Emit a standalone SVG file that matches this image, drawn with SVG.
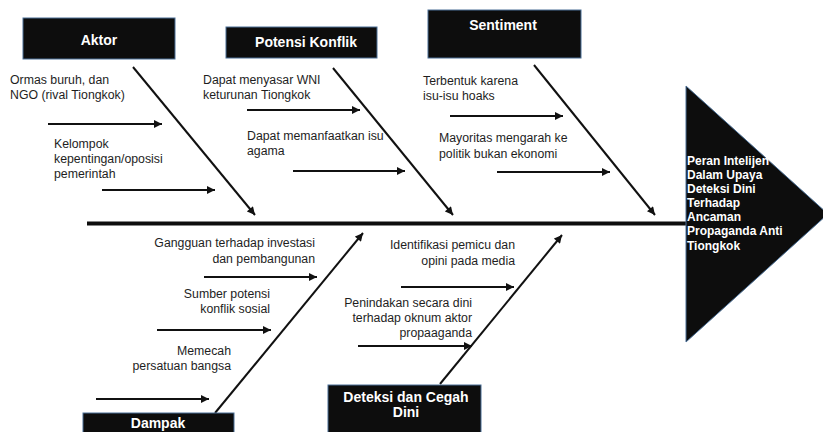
<svg xmlns="http://www.w3.org/2000/svg" width="823" height="432" viewBox="0 0 823 432">
  <style>
    .box { fill: #0d0d0d; stroke: #4a6f96; stroke-width: 1; }
    .title { font-family: "Liberation Sans", Arial, sans-serif; font-size: 14px; font-weight: bold; fill: #ffffff; text-anchor: middle; }
    .head { font-family: "Liberation Sans", Arial, sans-serif; font-size: 12px; font-weight: bold; fill: #ffffff; }
    .lbl { font-family: "Liberation Sans", Arial, sans-serif; font-size: 12.3px; fill: #1e1e1e; }
    .end { text-anchor: end; }
    .arr { stroke: #111111; stroke-width: 2; fill: none; marker-end: url(#ah); }
    .spine { stroke: #0d0d0d; stroke-width: 4; }
  </style>
  <defs>
    <marker id="ah" viewBox="0 0 10 10" refX="10" refY="5" markerWidth="9" markerHeight="8" markerUnits="userSpaceOnUse" orient="auto">
      <path d="M0,0 L10,5 L0,10 z" fill="#111111"/>
    </marker>
  </defs>
  <rect width="823" height="432" fill="#ffffff"/>

  <g id="connectors">
    <line class="spine" x1="87" y1="223.5" x2="687" y2="223.5"/>
    <line class="arr" x1="133" y1="67" x2="255" y2="215"/>
    <line class="arr" x1="333" y1="68" x2="453" y2="215"/>
    <line class="arr" x1="534" y1="65" x2="655" y2="215"/>
    <line class="arr" x1="215" y1="413" x2="363" y2="233"/>
    <line class="arr" x1="440" y1="384" x2="562" y2="235"/>
    <line class="arr" x1="48" y1="124" x2="162" y2="124"/>
    <line class="arr" x1="102" y1="190" x2="215" y2="190"/>
    <line class="arr" x1="247" y1="110" x2="360" y2="110"/>
    <line class="arr" x1="293" y1="171" x2="405" y2="171"/>
    <line class="arr" x1="450" y1="116" x2="563" y2="116"/>
    <line class="arr" x1="497" y1="172" x2="610" y2="172"/>
    <line class="arr" x1="204" y1="277" x2="317" y2="277"/>
    <line class="arr" x1="157" y1="330" x2="271" y2="330"/>
    <line class="arr" x1="96" y1="399" x2="209" y2="399"/>
    <line class="arr" x1="401" y1="287" x2="514" y2="287"/>
    <line class="arr" x1="358" y1="346" x2="472" y2="346"/>
  </g>

  <g id="head">
    <polygon class="box" points="686,86 828,214 686,342"/>
    <text class="head" x="687" y="165">Peran Intelijen</text>
    <text class="head" x="687" y="179">Dalam Upaya</text>
    <text class="head" x="687" y="193">Deteksi Dini</text>
    <text class="head" x="687" y="207">Terhadap</text>
    <text class="head" x="687" y="221">Ancaman</text>
    <text class="head" x="687" y="235">Propaganda Anti</text>
    <text class="head" x="687" y="250">Tiongkok</text>
  </g>

  <g id="aktor">
    <rect class="box" x="23" y="18" width="152" height="41"/>
    <text class="title" x="99" y="45">Aktor</text>
    <text class="lbl" x="10" y="84">Ormas buruh, dan</text>
    <text class="lbl" x="10" y="99">NGO (rival Tiongkok)</text>
    <text class="lbl" x="54" y="148">Kelompok</text>
    <text class="lbl" x="54" y="163">kepentingan/oposisi</text>
    <text class="lbl" x="54" y="178">pemerintah</text>
  </g>

  <g id="potensi-konflik">
    <rect class="box" x="226" y="27" width="151" height="31"/>
    <text class="title" x="306" y="47">Potensi Konflik</text>
    <text class="lbl" x="203" y="84">Dapat menyasar WNI</text>
    <text class="lbl" x="203" y="99">keturunan Tiongkok</text>
    <text class="lbl" x="247" y="140">Dapat memanfaatkan isu</text>
    <text class="lbl" x="247" y="155">agama</text>
  </g>

  <g id="sentiment">
    <rect class="box" x="428" y="10" width="153" height="48"/>
    <text class="title" x="503" y="30">Sentiment</text>
    <text class="lbl" x="423" y="85">Terbentuk karena</text>
    <text class="lbl" x="423" y="100">isu-isu hoaks</text>
    <text class="lbl" x="439" y="142">Mayoritas mengarah ke</text>
    <text class="lbl" x="439" y="158">politik bukan ekonomi</text>
  </g>

  <g id="dampak">
    <rect class="box" x="83" y="413" width="151" height="25"/>
    <text class="title" x="158" y="428">Dampak</text>
    <text class="lbl end" x="315" y="247">Gangguan terhadap investasi</text>
    <text class="lbl end" x="315" y="263">dan pembangunan</text>
    <text class="lbl end" x="270" y="298">Sumber potensi</text>
    <text class="lbl end" x="270" y="313">konflik sosial</text>
    <text class="lbl end" x="231" y="355">Memecah</text>
    <text class="lbl end" x="231" y="370">persatuan bangsa</text>
  </g>

  <g id="deteksi">
    <rect class="box" x="328" y="385" width="153" height="53"/>
    <text class="title" x="406" y="402">Deteksi dan Cegah</text>
    <text class="title" x="406" y="417">Dini</text>
    <text class="lbl end" x="515" y="249">Identifikasi pemicu dan</text>
    <text class="lbl end" x="515" y="265">opini pada media</text>
    <text class="lbl end" x="472" y="307">Penindakan secara dini</text>
    <text class="lbl end" x="472" y="322">terhadap oknum aktor</text>
    <text class="lbl end" x="472" y="337">propaaganda</text>
  </g>
</svg>
